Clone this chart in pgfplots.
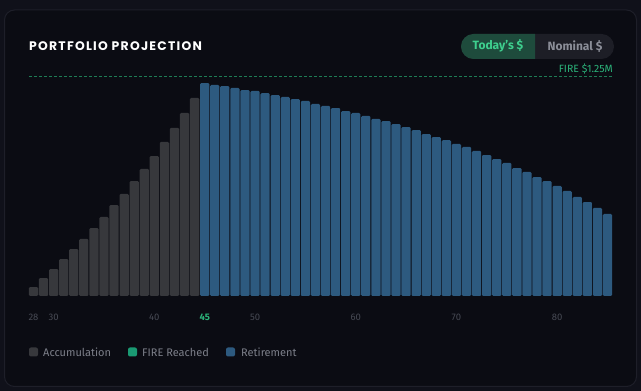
\documentclass[border=0pt]{standalone}
\usepackage{pgfplots}
\pgfplotsset{compat=1.18}
\usepackage{fontspec}
\setmainfont{Fira Sans}
\newfontfamily\titlefont[LetterSpace=10]{Poppins}
\definecolor{outerbg}{HTML}{10111A}
\definecolor{cardbg}{HTML}{0B0C13}
\definecolor{cardborder}{HTML}{1E1F29}
\definecolor{accum}{HTML}{37383C}
\definecolor{retire}{HTML}{2D5A7F}
\definecolor{firegreen}{HTML}{2BB37A}
\definecolor{firebox}{HTML}{1A9A73}
\definecolor{ticklab}{HTML}{474A54}
\definecolor{legtext}{HTML}{7C7F89}
\definecolor{toggleon}{HTML}{1E4B3C}
\definecolor{toggleoff}{HTML}{1D1E26}
\definecolor{togglegreen}{HTML}{3ECF8E}
\definecolor{togglegray}{HTML}{8B8E98}
\begin{document}
\begin{tikzpicture}[x=1pt,y=1pt]
\useasboundingbox (0,0) rectangle (641,391);
\fill[outerbg] (0,0) rectangle (641,391);
\filldraw[fill=cardbg, draw=cardborder, line width=1pt, rounded corners=10pt] (4.5,4.5) rectangle (636.5,381);
% title
\node[anchor=west, inner sep=0pt, text=white] at (29,345) {\titlefont\bfseries\fontsize{12.4}{12.4}\selectfont PORTFOLIO PROJECTION};
% toggle
\fill[toggleoff, rounded corners=12.5pt] (461,332) rectangle (614,357);
\begin{scope}
\clip (461,332) rectangle (535,357);
\fill[toggleon, rounded corners=12.5pt] (461,332) rectangle (560,357);
\end{scope}
\node[text=togglegreen, inner sep=0pt] at (498,345) {\fontsize{12}{12}\selectfont\bfseries Today's \$};
\node[text=togglegray, inner sep=0pt] at (575,345) {\fontsize{12}{12}\selectfont\bfseries Nominal \$};
\node[anchor=east, text=firegreen, inner sep=0pt] at (613,322) {\fontsize{10.5}{10.5}\selectfont FIRE \$1.25M};
% legend
\fill[accum, rounded corners=2pt] (29,34.5) rectangle (38,43.5);
\node[anchor=west, text=legtext, inner sep=0pt] at (43,39) {\fontsize{11}{11}\selectfont Accumulation};
\fill[firebox, rounded corners=2pt] (128,34.5) rectangle (137,43.5);
\node[anchor=west, text=legtext, inner sep=0pt] at (142,39) {\fontsize{11}{11}\selectfont FIRE Reached};
\fill[retire, rounded corners=2pt] (226,34.5) rectangle (235,43.5);
\node[anchor=west, text=legtext, inner sep=0pt] at (241,39) {\fontsize{11}{11}\selectfont Retirement};
\begin{axis}[
  at={(28.47pt,95pt)}, anchor=south west,
  scale only axis, width=585.07pt, height=220pt,
  xmin=27.5, xmax=85.6, ymin=0, ymax=1250,
  clip=false,
  axis line style={draw=none}, tick style={draw=none},
  ytick=\empty,
  xtick={28,30,40,45,50,60,70,80},
  xticklabels={28,30,40,\textcolor{firegreen}{\bfseries 45},50,60,70,80},
  xticklabel style={anchor=center, yshift=-17pt, text=ticklab, font=\fontsize{9.5}{9.5}\selectfont},
  /pgf/number format/assume math mode=true,
  ybar, bar width=0.92, bar shift=0pt,
]
\addplot[fill=accum, draw=none, rounded corners=1.2pt] coordinates {
(28,51) (29,102) (30,153) (31,210) (32,267) (33,324) (34,386) (35,449) (36,517)
(37,580) (38,653) (39,722) (40,795) (41,875) (42,955) (43,1040) (44,1125)};
\addplot[fill=retire, draw=none, rounded corners=1.2pt] coordinates {
(45,1210) (46,1199) (47,1193) (48,1182) (49,1170) (50,1165) (51,1153) (52,1142)
(53,1131) (54,1119) (55,1108) (56,1091) (57,1080) (58,1068) (59,1051) (60,1040)
(61,1023) (62,1006) (63,994) (64,977) (65,960) (66,943) (67,920) (68,903)
(69,886) (70,864) (71,847) (72,824) (73,801) (74,778) (75,756) (76,727)
(77,705) (78,676) (79,653) (80,625) (81,597) (82,563) (83,534) (84,500) (85,466)};
\addplot[ybar=0pt, sharp plot, draw=firegreen!70!black, dashed, dash pattern=on 3pt off 2pt, line width=0.8pt, mark=none] coordinates {(27.55,1250) (85.55,1250)};
\end{axis}
\end{tikzpicture}
\end{document}
